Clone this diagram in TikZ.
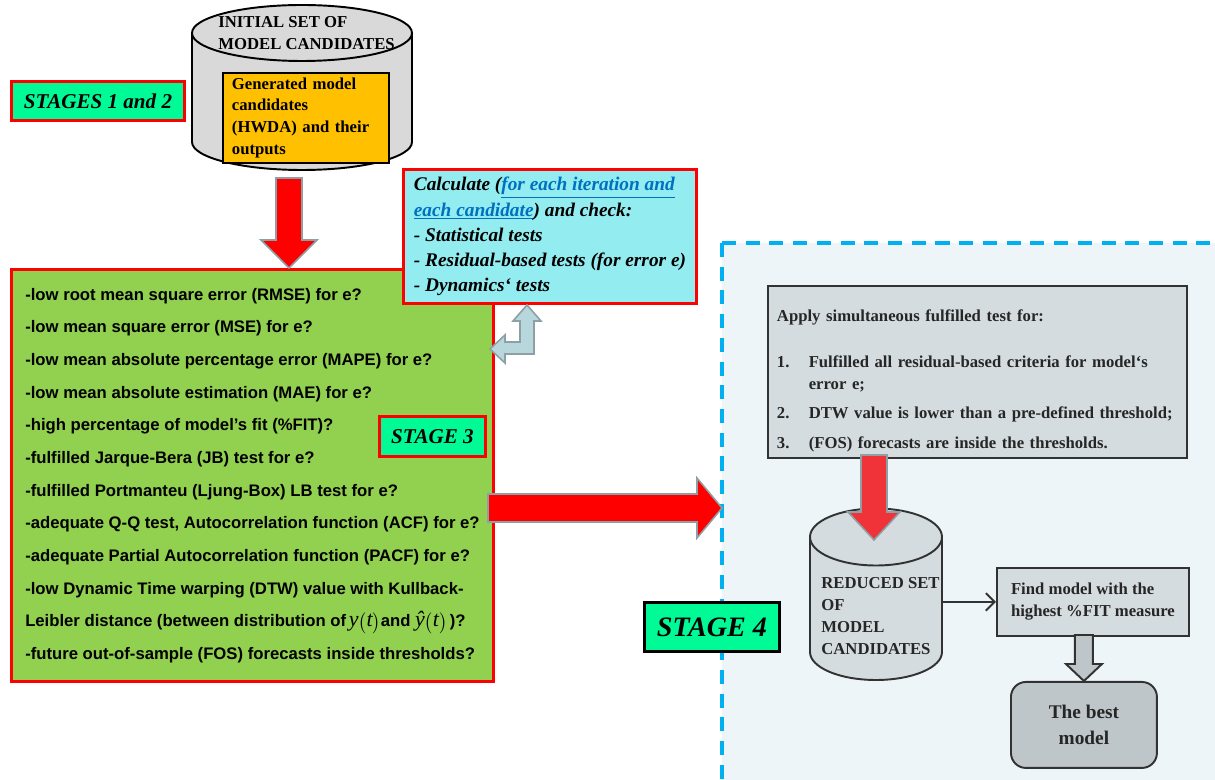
\documentclass[tikz,border=0pt]{standalone}
\usepackage{fontspec}
\setmainfont{Liberation Serif}
\setsansfont{Liberation Sans}
\usetikzlibrary{arrows.meta}
\definecolor{stagegreen}{RGB}{0,250,150}
\definecolor{critgreen}{RGB}{146,208,80}
\definecolor{calccyan}{RGB}{146,236,240}
\definecolor{genorange}{RGB}{255,192,0}
\definecolor{cylgray}{RGB}{217,217,217}
\definecolor{boxgray}{RGB}{213,220,223}
\definecolor{bestgray}{RGB}{191,198,201}
\definecolor{regionbg}{RGB}{238,245,248}
\definecolor{regionblue}{RGB}{0,176,240}
\definecolor{linkblue}{RGB}{0,112,192}
\definecolor{bentfill}{RGB}{183,215,221}
\definecolor{arrowedge}{RGB}{140,160,166}
\definecolor{redfour}{RGB}{239,51,56}
\definecolor{darkline}{RGB}{50,50,50}
\newcommand{\lnk}[1]{\textcolor{linkblue}{\underline{#1}}}
\newcommand{\mvar}[1]{{\rmfamily\mdseries\itshape\fontsize{12.5}{12.5}\selectfont #1}}
\begin{document}
\begin{tikzpicture}[x=0.02cm,y=-0.02cm,
  stagebox/.style={draw=red,line width=1.7pt,fill=stagegreen,inner sep=0pt,anchor=north west},
  redbox/.style={draw=red,line width=1.7pt,inner sep=0pt,anchor=north west,align=left},
  graybox/.style={draw=darkline,line width=1.1pt,fill=boxgray,inner sep=0pt,anchor=north west,text=black!85},
  redblock/.style={fill=red,draw=arrowedge,line width=0.9pt,line join=miter},
  serifb/.style={font=\fontsize{9.5}{12.5}\selectfont\bfseries}]
\clip (0,0) rectangle (1215,780);
\coordinate (tip1) at (289,268);
\coordinate (tip2) at (722,508);
\coordinate (tip3) at (874,540);
\coordinate (tip4) at (490,349);
\coordinate (redR) at (942,601);

% stage 4 region
\fill[regionbg] (722,243) rectangle (1240,800);
\draw[regionblue,line width=2pt,dash pattern=on 8pt off 5.5pt] (722,243) -- (1240,243);
\draw[regionblue,line width=2pt,dash pattern=on 8pt off 5.5pt] (722,243) -- (722,800);

% stages 1 and 2
\draw[line width=1.1pt,fill=cylgray] (192,33) -- (192,142) arc[start angle=180,end angle=0,x radius=110,y radius=28] -- (412,33) -- cycle;
\draw[line width=1.1pt,fill=cylgray] (302,33) ellipse[x radius=110,y radius=28];
\node[serifb,anchor=west,align=left,inner sep=0pt] (initset) at (218,33) {INITIAL SET OF\\MODEL CANDIDATES};
\node[draw,line width=1.1pt,fill=genorange,anchor=north west,minimum height=1.8cm,text width=2.96cm,inner xsep=0.18cm,inner ysep=0pt,align=left,serifb] (gen) at (222,72) {Generated model\\candidates\\(HWDA) and their\\outputs};
\node[stagebox,minimum width=3.46cm,minimum height=0.78cm,font=\fontsize{12}{14}\selectfont\bfseries\itshape] (st12) at (10,80) {STAGES 1 and 2};

% stage 3
\node[redbox,fill=critgreen,minimum width=9.64cm,minimum height=8.24cm,font=\sffamily\fontsize{9.5}{18.6}\selectfont\bfseries] (crit) at (10,268) {-low root mean square error (RMSE) for e?\\-low mean square error (MSE) for e?\\-low mean absolute percentage error (MAPE) for e?\\-low mean absolute estimation (MAE) for e?\\-high percentage of model’s fit (\%FIT)?\\-fulfilled Jarque-Bera (JB) test for e?\\-fulfilled Portmanteu (Ljung-Box) LB test for e?\\-adequate Q-Q test, Autocorrelation function (ACF) for e?\\-adequate Partial Autocorrelation function (PACF) for e?\\-low Dynamic Time warping (DTW) value with Kullback-\\Leibler distance (between distribution of\,\mvar{y}$\bigl($\mvar{t}$\bigr)$and \mvar{ŷ}$\bigl($\mvar{t}$\bigr)$\,)?\\-future out-of-sample (FOS) forecasts inside thresholds?};
\node[stagebox,minimum width=2.12cm,minimum height=0.8cm,font=\fontsize{12}{14}\selectfont\bfseries\itshape] (st3) at (378,415) {STAGE 3};
\node[redbox,fill=calccyan,minimum width=5.86cm,minimum height=2.68cm,font=\fontsize{11}{14.3}\selectfont\bfseries\itshape] (calc) at (402,168) {Calculate (\lnk{for each iteration and}\\\lnk{each candidate}) and check:\\- Statistical tests\\- Residual-based tests (for error e)\\- Dynamics‘ tests};

% block arrows on the left
\draw[redblock] (tip1) -- ++(-28,-28) -- ++(15,0) -- ++(0,-62) -- ++(26,0) -- ++(0,62) -- ++(15,0) -- cycle;
\draw[fill=bentfill,draw=arrowedge,line width=0.9pt] (tip4) -- ++(15,-14) -- ++(0,7) -- ++(15,0) -- ++(0,-21) -- ++(-7,0) -- ++(14,-16) -- ++(14,16) -- ++(-7,0) -- ++(0,33) -- ++(-29,0) -- ++(0,9) -- cycle;
\draw[redblock] (tip2) -- ++(-25,-30) -- ++(0,16) -- ++(-209,0) -- ++(0,28) -- ++(209,0) -- ++(0,16) -- cycle;

% stage 4
\node[graybox,minimum width=8.38cm,minimum height=3.44cm,text width=8.02cm,inner xsep=0.18cm,align=left,serifb] (apply) at (767,285) {\rule{0pt}{17pt}Apply simultaneous fulfilled test for:\\[13.6pt]\makebox[18.1pt][l]{1.}Fulfilled all residual-based criteria for model‘s\\\hspace*{18.1pt}error e;\\[4pt]\makebox[18.1pt][l]{2.}DTW value is lower than a pre-defined threshold;\\[4.5pt]\makebox[18.1pt][l]{3.}(FOS) forecasts are inside the thresholds.};
\draw[draw=darkline,line width=1.1pt,fill=boxgray] (810,537) -- (810,652) arc[start angle=180,end angle=0,x radius=66,y radius=28] -- (942,537) -- cycle;
\draw[draw=darkline,line width=1.1pt,fill=boxgray] (876,537) ellipse[x radius=66,y radius=28.5];
\node[serifb,anchor=west,align=left,inner sep=0pt,text=black!85] (redset) at (821,616) {REDUCED SET\\OF\\MODEL\\CANDIDATES};
\draw[redblock,fill=redfour] (tip3) -- ++(-26,-28) -- ++(13,0) -- ++(0,-57) -- ++(26,0) -- ++(0,57) -- ++(13,0) -- cycle;
\node[graybox,minimum width=3.84cm,minimum height=1.36cm,align=left,serifb] (find) at (996,567) {Find model with the\\highest \%FIT measure};
\node[graybox,fill=bestgray,rounded corners=0.3cm,minimum width=2.92cm,minimum height=1.72cm,align=center,font=\fontsize{11}{14.7}\selectfont\bfseries] (best) at (1010,681) {The best\\model};
\draw[darkline,line width=1.1pt,-{Straight Barb[length=5pt,width=10pt]}] (find.west -| redR) -- (find.west);
\draw[fill=bestgray,draw=darkline,line width=1.1pt] (best.north) -- ++(-18,-17) -- ++(9,0) -- ++(0,-29) -- ++(18,0) -- ++(0,29) -- ++(9,0) -- cycle;
\node[stagebox,draw=black,minimum width=2.7cm,minimum height=0.98cm,font=\fontsize{16}{18}\selectfont\bfseries\itshape] (st4) at (643,601) {STAGE 4};
\end{tikzpicture}
\end{document}
